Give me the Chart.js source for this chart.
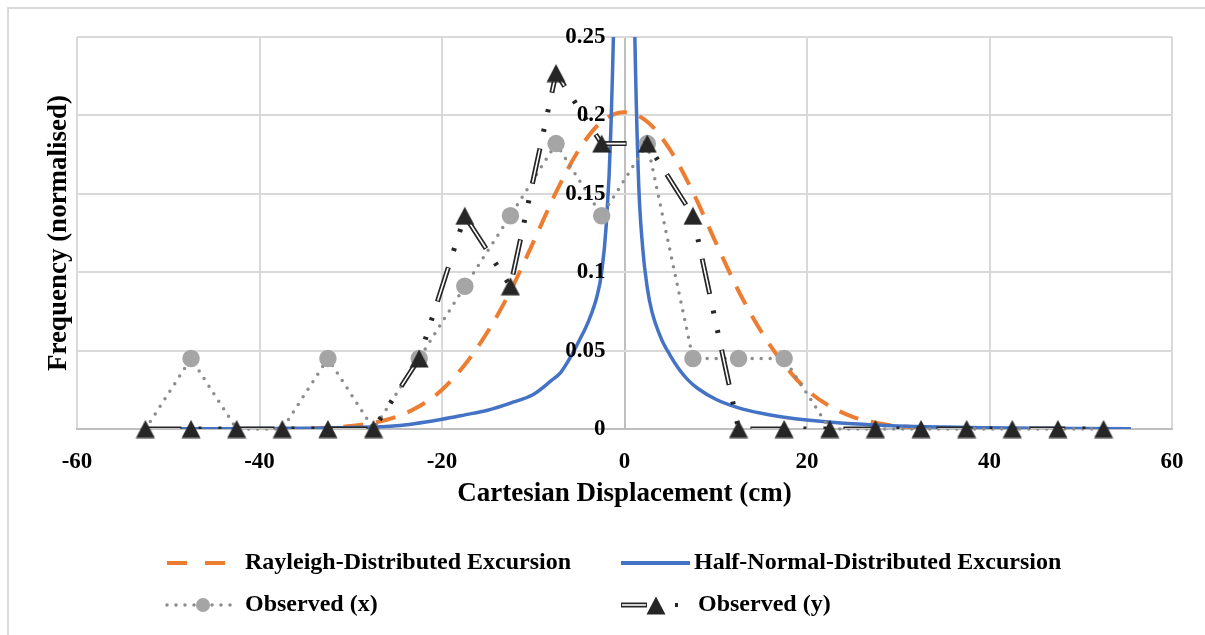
<!DOCTYPE html>
<html>
<head>
<meta charset="utf-8">
<title>Cartesian Displacement</title>
<script src="https://cdn.jsdelivr.net/npm/chart.js@4.4.1/dist/chart.umd.min.js"></script>
<style>
  html, body { margin: 0; padding: 0; background: #fff; }
  canvas { display: block; }
</style>
</head>
<body>
<canvas id="dispChart" width="1205" height="635"></canvas>
<script>
// ----------- DATA -----------
// histogram bin centres (cm)
const binCentres = [-52.5, -47.5, -42.5, -37.5, -32.5, -27.5, -22.5, -17.5, -12.5, -7.5, -2.5,
                    2.5, 7.5, 12.5, 17.5, 22.5, 27.5, 32.5, 37.5, 42.5, 47.5, 52.5];
const observedX = [0, 0.045, 0, 0, 0.045, 0, 0.045, 0.091, 0.136, 0.182, 0.136,
                   0.182, 0.045, 0.045, 0.045, 0, 0, 0, 0, 0, 0, 0];
const observedY = [0, 0, 0, 0, 0, 0, 0.045, 0.136, 0.091, 0.227, 0.182,
                   0.182, 0.136, 0, 0, 0, 0, 0, 0, 0, 0, 0];

// fitted curves
const rayleighX = [-52.5, -45, -40, -37.5, -35, -32.5, -30, -27.5, -25, -22.5,
                   -20, -17.5, -15, -12.5, -10, -7.5, -5, -2.5, 0,
                   2.5, 5, 7.5, 10, 12.5, 15, 17.5, 20, 22.5, 25,
                   27.5, 30, 32.5, 35, 37.5, 40, 45, 52.5];
const rayleighY = [0, 0, 0, 0.0001, 0.0003, 0.0008, 0.0019, 0.004, 0.0078, 0.0145,
                   0.025, 0.041, 0.062, 0.088, 0.119, 0.151, 0.178, 0.196, 0.202,
                   0.196, 0.178, 0.151, 0.119, 0.088, 0.062, 0.041, 0.025, 0.0145, 0.0078,
                   0.004, 0.0019, 0.0008, 0.0003, 0.0001, 0, 0, 0];

const halfNormalX = [-52.5, -45, -40, -35, -30, -25, -20, -17.5, -15, -12.5,
                     -10, -8, -7, -6, -5, -4, -3, -2.5, -2, -1.5, -1, -0.5,
                     0.5, 1, 1.5, 2, 2.5, 3, 4, 5, 6, 7,
                     8, 10, 12.5, 15, 17.5, 20, 25, 30, 35, 40, 45, 50, 55.5];
const halfNormalY = [0.0001, 0.0002, 0.0003, 0.0005, 0.0009, 0.002, 0.0062, 0.009, 0.012, 0.0165,
                     0.022, 0.031, 0.036, 0.045, 0.056, 0.068, 0.085, 0.10, 0.13, 0.19, 0.32, 0.62,
                     0.62, 0.30, 0.165, 0.115, 0.09, 0.075, 0.058, 0.047, 0.038, 0.031,
                     0.026, 0.019, 0.0135, 0.010, 0.0075, 0.0057, 0.0033, 0.0019, 0.0012, 0.0008, 0.0005, 0.0003, 0.0002];

const xTicks = [-60, -40, -20, 0, 20, 40, 60];
const xTickLabels = ["-60", "-40", "-20", "0", "20", "40", "60"];
const yTicks = [0, 0.05, 0.1, 0.15, 0.2, 0.25];
const yTickLabels = ["0", "0.05", "0.1", "0.15", "0.2", "0.25"];

const seriesNames = ["Rayleigh-Distributed Excursion", "Half-Normal-Distributed Excursion",
                     "Observed (x)", "Observed (y)"];

const SERIF = "'Liberation Serif', 'Times New Roman', serif";
const ORANGE = "#ed7d31", BLUE = "#4472c4", GREY_LINE = "#8c8c8c", GREY_DOT = "#a5a5a5", INK = "#262626";
const Y_DASH = [36, 17, 3, 17, 3, 17];

const toXY = (xs, ys) => xs.map((x, i) => ({ x: x, y: ys[i] }));

// triangle marker centred on its bounding box (the built-in one sits on its centroid)
const triMarker = document.createElement("canvas");
triMarker.width = 20;
triMarker.height = 19;
(function () {
  const t = triMarker.getContext("2d");
  t.fillStyle = INK;
  t.beginPath();
  t.moveTo(10, 0.5);
  t.lineTo(19.5, 18.5);
  t.lineTo(0.5, 18.5);
  t.closePath();
  t.fill();
})();

// ----------- DECORATIONS (frame, y title, y labels, legend) -----------
const decor = {
  id: "decor",
  beforeDraw(chart) {
    const ctx = chart.ctx;
    ctx.save();
    ctx.fillStyle = "#fff";
    ctx.fillRect(0, 0, chart.width, chart.height);
    ctx.strokeStyle = "#d9d9d9";
    ctx.lineWidth = 2;
    ctx.strokeRect(8, 8, chart.width + 20, chart.height + 20);
    ctx.restore();
  },
  afterDatasetsDraw(chart) {
    const ctx = chart.ctx;
    const xs = chart.scales.x, ys = chart.scales.y;
    ctx.save();
    ctx.fillStyle = "#000";
    ctx.font = "bold 23px " + SERIF;
    ctx.textAlign = "right";
    ctx.textBaseline = "middle";
    const x0 = xs.getPixelForValue(0) - 19;
    yTicks.forEach((v, i) => ctx.fillText(yTickLabels[i], x0, ys.getPixelForValue(v)));

    // y axis title
    ctx.font = "bold 27px " + SERIF;
    ctx.textAlign = "center";
    ctx.translate(59, (chart.chartArea.top + chart.chartArea.bottom) / 2);
    ctx.rotate(-Math.PI / 2);
    ctx.fillText("Frequency (normalised)", 0, 0);
    ctx.restore();
  },
  afterDraw(chart) {
    const ctx = chart.ctx;
    const row1 = 563, row2 = 605;
    const col1 = 167, col2 = 621;
    ctx.save();

    // Rayleigh
    ctx.strokeStyle = ORANGE;
    ctx.lineWidth = 4;
    ctx.setLineDash([20, 18]);
    ctx.beginPath(); ctx.moveTo(col1, row1); ctx.lineTo(col1 + 58, row1); ctx.stroke();

    // Half-normal
    ctx.strokeStyle = BLUE;
    ctx.setLineDash([]);
    ctx.beginPath(); ctx.moveTo(col2, row1); ctx.lineTo(col2 + 69, row1); ctx.stroke();

    // Observed (x)
    ctx.strokeStyle = GREY_LINE;
    ctx.lineWidth = 3.5;
    ctx.lineCap = "round";
    ctx.setLineDash([0, 9]);
    ctx.beginPath(); ctx.moveTo(col1, row2); ctx.lineTo(col1 + 66, row2); ctx.stroke();
    ctx.setLineDash([]);
    ctx.fillStyle = GREY_DOT;
    ctx.beginPath(); ctx.arc(col1 + 36, row2, 7, 0, Math.PI * 2); ctx.fill();

    // Observed (y)
    ctx.lineCap = "butt";
    ctx.strokeStyle = INK;
    ctx.lineWidth = 5;
    ctx.beginPath(); ctx.moveTo(col2, row2); ctx.lineTo(col2 + 26, row2); ctx.stroke();
    ctx.strokeStyle = "#fff";
    ctx.lineWidth = 1.6;
    ctx.beginPath(); ctx.moveTo(col2 + 1, row2); ctx.lineTo(col2 + 25, row2); ctx.stroke();
    ctx.drawImage(triMarker, col2 + 25, row2 - 9);
    ctx.fillStyle = INK;
    ctx.fillRect(col2 + 54, row2 - 2, 3, 4);

    // legend texts
    ctx.fillStyle = "#000";
    ctx.font = "bold 24px " + SERIF;
    ctx.textAlign = "left";
    ctx.textBaseline = "middle";
    ctx.fillText(seriesNames[0], 245, row1);
    ctx.fillText(seriesNames[1], 694, row1);
    ctx.fillText(seriesNames[2], 245, row2);
    ctx.fillText(seriesNames[3], 698, row2);
    ctx.restore();
  }
};

// ----------- DISPLACEMENT CHART -----------
const dispCtx = document.getElementById("dispChart").getContext("2d");
new Chart(dispCtx, {
  type: "line",
  data: {
    datasets: [
      {
        // triangles for Observed (y), drawn on top
        label: seriesNames[3],
        data: toXY(binCentres, observedY),
        showLine: false,
        pointStyle: triMarker,
        pointRadius: 10,
        clip: false,
        order: 0
      },
      {
        // white core of the double line
        label: seriesNames[3] + " core",
        data: toXY(binCentres, observedY),
        borderColor: "#fff",
        borderWidth: 1.6,
        borderDash: [0, 1, 34, 58],
        pointRadius: 0,
        order: 1
      },
      {
        label: seriesNames[3] + " line",
        data: toXY(binCentres, observedY),
        borderColor: INK,
        borderWidth: 5,
        borderDash: Y_DASH,
        pointRadius: 0,
        order: 2
      },
      {
        label: seriesNames[2],
        data: toXY(binCentres, observedX),
        borderColor: GREY_LINE,
        borderWidth: 3.5,
        borderDash: [0, 9],
        borderCapStyle: "round",
        pointStyle: "circle",
        // empty bins carry no marker
        pointRadius: c => (c.raw && c.raw.y === 0 ? 0 : 7),
        pointBackgroundColor: GREY_DOT,
        pointBorderColor: GREY_DOT,
        clip: false,
        order: 3
      },
      {
        label: seriesNames[1],
        data: toXY(halfNormalX, halfNormalY),
        borderColor: BLUE,
        borderWidth: 3.5,
        cubicInterpolationMode: "monotone",
        pointRadius: 0,
        order: 4
      },
      {
        label: seriesNames[0],
        data: toXY(rayleighX, rayleighY),
        borderColor: ORANGE,
        borderWidth: 4,
        borderDash: [20, 13],
        cubicInterpolationMode: "monotone",
        pointRadius: 0,
        order: 5
      }
    ]
  },
  options: {
    responsive: false,
    animation: false,
    events: [],
    layout: { padding: { left: 77, right: 33, top: 37, bottom: 125 } },
    plugins: { legend: { display: false }, tooltip: { enabled: false } },
    scales: {
      x: {
        type: "linear",
        min: -60,
        max: 60,
        afterBuildTicks: axis => { axis.ticks = xTicks.map(v => ({ value: v })); },
        grid: {
          color: c => (c.tick && c.tick.value === 0 ? "#bfbfbf" : "#d9d9d9"),
          lineWidth: 2,
          drawTicks: false
        },
        border: { display: true, color: "#bfbfbf", width: 2 },
        ticks: {
          color: "#000",
          padding: 19,
          maxRotation: 0,
          font: { family: SERIF, size: 23, weight: "bold" },
          callback: (v, i) => xTickLabels[i]
        },
        title: {
          display: true,
          text: "Cartesian Displacement (cm)",
          color: "#000",
          // tick padding is counted twice in the axis height, pull the title back up
          padding: { top: -17, bottom: 0 },
          font: { family: SERIF, size: 27, weight: "bold" }
        }
      },
      y: {
        type: "linear",
        min: 0,
        max: 0.25,
        afterBuildTicks: axis => { axis.ticks = yTicks.map(v => ({ value: v })); },
        grid: { color: "#d9d9d9", lineWidth: 2, drawTicks: false },
        border: { display: false },
        ticks: { display: false }
      }
    }
  },
  plugins: [decor]
});
</script>
</body>
</html>
